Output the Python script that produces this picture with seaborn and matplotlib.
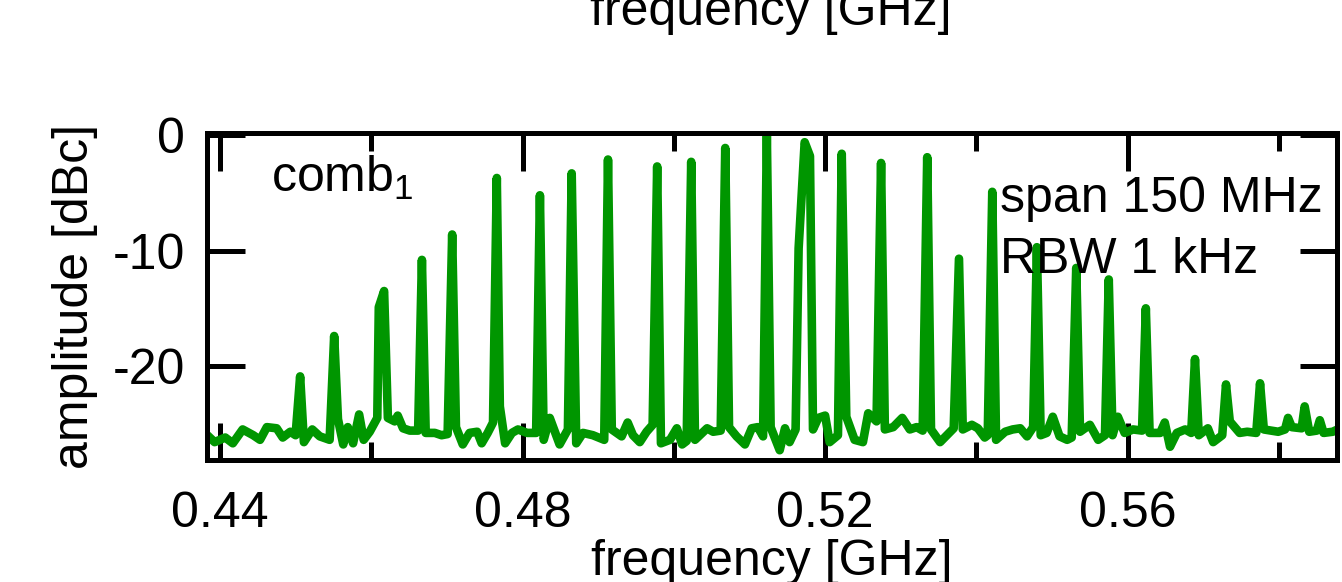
import matplotlib
matplotlib.use("Agg")
import matplotlib.pyplot as plt
from matplotlib.ticker import MultipleLocator, FixedLocator
import seaborn as sns
import pandas as pd

# spectrum trace (frequency in MHz, amplitude in dBc)
freq_mhz = [
    438.0, 439.3, 440.7, 441.7, 443.0, 444.4, 445.3, 446.2, 447.5, 448.3,
    449.3, 450.0, 450.6, 451.1, 452.2, 453.2, 454.5, 455.1, 455.6, 456.3,
    456.9, 457.6, 458.4, 459.0, 459.8, 460.8, 461.0, 461.7, 462.2, 463.1,
    463.5, 464.2, 465.1, 466.2, 466.7, 467.2, 468.4, 469.3, 470.1, 470.7,
    471.2, 472.1, 473.0, 474.0, 474.6, 475.4, 476.1, 476.6, 477.0, 477.7,
    478.6, 479.4, 480.6, 481.8, 482.3, 482.8, 483.6, 484.9, 486.0, 486.5,
    487.1, 488.0, 489.3, 490.8, 491.3, 491.8, 493.1, 493.9, 494.6, 495.5,
    496.4, 497.2, 497.8, 498.3, 499.5, 500.4, 501.1, 501.7, 502.3, 502.8,
    504.4, 505.2, 506.2, 506.8, 507.3, 508.3, 509.4, 510.3, 511.1, 511.8,
    512.3, 512.8, 514.0, 514.7, 515.3, 516.1, 516.5, 517.3, 518.0, 518.4,
    519.1, 520.0, 520.6, 521.7, 522.2, 522.8, 523.9, 525.0, 525.7, 526.8,
    527.4, 527.9, 529.0, 530.2, 531.2, 532.1, 532.9, 533.5, 534.0, 535.2,
    536.1, 537.0, 537.7, 538.2, 539.4, 540.2, 541.1, 541.5, 542.1, 542.6,
    543.8, 544.8, 545.8, 546.7, 547.5, 548.0, 548.5, 549.3, 550.1, 551.0,
    552.0, 552.6, 553.2, 553.7, 555.0, 556.1, 557.0, 557.5, 558.0, 558.7,
    559.6, 560.7, 561.9, 562.4, 562.9, 564.3, 564.9, 565.6, 566.5, 567.6,
    568.4, 568.9, 569.4, 570.6, 571.3, 572.5, 573.0, 573.5, 574.8, 575.8,
    577.0, 577.5, 578.0, 579.9, 580.8, 581.2, 581.7, 583.0, 583.4, 584.0,
    585.0, 585.4, 585.9, 587.1, 588.1,
]
amp_dbc = [
    -25.8, -26.6, -26.2, -26.7, -25.5, -26.0, -26.4, -25.3, -25.4, -26.2,
    -25.7, -26.0, -20.9, -26.6, -25.5, -26.1, -26.4, -17.4, -24.6, -26.8,
    -25.3, -26.7, -24.2, -26.4, -25.7, -24.5, -14.9, -13.5, -24.5, -24.8,
    -24.3, -25.4, -25.6, -25.6, -10.8, -25.8, -25.8, -26.0, -25.9, -8.6,
    -25.3, -26.8, -25.8, -25.7, -26.7, -25.8, -24.9, -3.7, -23.5, -26.7,
    -25.8, -25.5, -25.8, -25.8, -5.2, -26.4, -24.5, -26.8, -25.5, -3.3,
    -26.7, -25.8, -26.0, -26.4, -2.1, -25.5, -26.1, -24.9, -26.0, -26.6,
    -25.7, -25.1, -2.7, -26.7, -26.4, -25.4, -26.8, -26.5, -2.3, -26.4,
    -25.4, -25.7, -25.6, -1.1, -25.3, -26.1, -26.8, -25.4, -25.3, -26.1,
    0.0, -25.3, -27.3, -25.4, -26.6, -25.5, -9.8, -0.6, -1.8, -25.5,
    -24.5, -24.3, -26.6, -26.0, -1.6, -24.4, -26.4, -26.6, -24.1, -24.8,
    -2.4, -25.5, -25.3, -24.5, -25.5, -25.3, -25.6, -1.9, -25.5, -26.6,
    -26.0, -25.4, -10.7, -25.5, -25.1, -25.4, -26.2, -26.0, -4.9, -26.4,
    -25.7, -25.5, -25.4, -26.1, -25.3, -9.7, -26.0, -25.8, -24.4, -26.1,
    -26.4, -26.2, -11.5, -25.7, -25.1, -26.4, -26.0, -12.5, -26.0, -24.4,
    -25.8, -25.5, -25.6, -15.0, -25.8, -25.8, -24.9, -27.0, -25.8, -25.5,
    -25.8, -19.4, -26.0, -25.4, -26.6, -26.0, -21.6, -24.8, -25.8, -25.7,
    -25.8, -21.5, -25.5, -25.7, -25.5, -24.5, -25.3, -25.4, -23.5, -25.7,
    -25.6, -24.7, -25.8, -25.7, -25.4,
]

y_ticks = [-20, -10, 0]
x_label = "frequency [GHz]"
y_label = "amplitude [dBc]"

df = pd.DataFrame({"freq": [f / 1000 for f in freq_mhz], "amp": amp_dbc})

sns.set_theme(style="ticks", rc={"text.color": "black",
                                 "axes.labelcolor": "black",
                                 "xtick.color": "black",
                                 "ytick.color": "black"})
plt.rcParams["font.family"] = ["Liberation Sans", "DejaVu Sans"]
plt.rcParams["mathtext.fontset"] = "custom"
plt.rcParams["mathtext.rm"] = "Liberation Sans"
plt.rcParams["mathtext.it"] = "Liberation Sans"
plt.rcParams["axes.unicode_minus"] = False

fig = plt.figure(figsize=(13.42, 5.82), dpi=100)
ax = fig.add_axes([0.1542, 0.2096, 0.8420, 0.5619])

sns.lineplot(data=df, x="freq", y="amp", ax=ax, color="#009600",
             estimator=None, sort=False, linewidth=6.2,
             solid_joinstyle="round", solid_capstyle="butt")

ax.set_xlim(0.43828, 0.58766)
ax.set_ylim(-28.15, 0.2)

ax.xaxis.set_major_locator(MultipleLocator(0.04))
ax.xaxis.set_minor_locator(MultipleLocator(0.02))
ax.yaxis.set_major_locator(FixedLocator(y_ticks))
ax.set_yticklabels([str(v) for v in y_ticks])

for s in ax.spines.values():
    s.set_visible(True)
    s.set_linewidth(3.6)
    s.set_color("black")

ax.tick_params(which="major", direction="in", length=27, width=3.6,
               top=True, right=True, labelsize=36, colors="black")
ax.tick_params(which="minor", direction="in", length=13, width=3.6,
               top=True, bottom=True)
ax.tick_params(axis="x", which="major", pad=22)
ax.tick_params(axis="y", which="major", pad=16)

ax.set_xlabel(x_label, fontsize=36, labelpad=2, color="black")
ax.set_ylabel(y_label, fontsize=36, labelpad=10, color="black")

ax.text(0.057, 0.8196, r"comb$_\mathrm{1}$", transform=ax.transAxes,
        fontsize=36, va="baseline", ha="left", color="black")
ax.text(0.7018, 0.7593, "span 150 MHz", transform=ax.transAxes,
        fontsize=36, va="baseline", ha="left", color="black")
ax.text(0.7018, 0.5719, "RBW 1 kHz", transform=ax.transAxes,
        fontsize=36, va="baseline", ha="left", color="black")

# axis label of the panel above, cut by the crop
fig.text(0.5745, 1 - 25 / 582, x_label, fontsize=36, ha="center",
         va="baseline", color="black")

plt.savefig("out.png", dpi=100)
plt.close()
